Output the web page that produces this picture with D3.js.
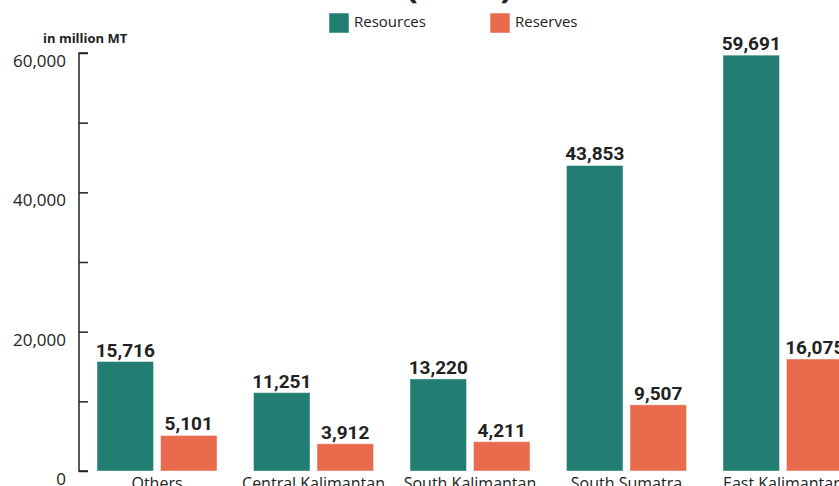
<!DOCTYPE html>
<html>
<head>
<meta charset="utf-8">
<script src="https://cdn.jsdelivr.net/npm/d3@7"></script>
<style>
  body { margin: 0; background: #fff; }
  svg { display: block; }
</style>
</head>
<body>
<script>
// data (million MT, 2020)
const provinces = ["Others", "Central Kalimantan", "South Kalimantan", "South Sumatra", "East Kalimantan"];
const resources = [15716, 11251, 13220, 43853, 59691];
const reserves = [5101, 3912, 4211, 9507, 16075];
const seriesNames = ["Resources", "Reserves"];
const yTicks = [0, 10000, 20000, 30000, 40000, 50000, 60000];
const yLabels = [0, 20000, 40000, 60000];

const WIDTH = 839;
const HEIGHT = 486;
const COLORS = { Resources: "#227d72", Reserves: "#e86b4e" };

const rows = provinces.map((p, i) => ({ name: p, Resources: resources[i], Reserves: reserves[i] }));

const svg = d3.select("body")
  .append("svg")
  .attr("width", WIDTH)
  .attr("height", HEIGHT);

const x0 = d3.scaleBand()
  .domain(provinces)
  .range([79, 861])
  .paddingInner(0.233)
  .paddingOuter(0.115);

const x1 = d3.scaleBand()
  .domain(seriesNames)
  .range([0, x0.bandwidth()])
  .paddingInner(0.11);

const y = d3.scaleLinear()
  .domain([0, 60000])
  .range([471, 53]);

// title (second line, mostly above the visible area)
svg.append("text")
  .attr("x", 459)
  .attr("y", -2)
  .attr("text-anchor", "middle")
  .style("font-family", "'Open Sans', sans-serif")
  .style("font-weight", "bold")
  .style("font-size", "36px")
  .style("fill", "#222")
  .text("(2020)");

// legend
const legend = svg.append("g");
[[329, "Resources"], [490, "Reserves"]].forEach(([lx, name]) => {
  legend.append("rect")
    .attr("x", lx).attr("y", 13)
    .attr("width", 20).attr("height", 20)
    .style("fill", COLORS[name])
    .attr("stroke", "rgba(255,255,255,0.5)");
  legend.append("text")
    .attr("x", lx + 25).attr("y", 27)
    .style("font-family", "'Open Sans', sans-serif")
    .style("font-size", "15px")
    .style("fill", "#222")
    .text(name);
});

// unit label
svg.append("text")
  .attr("x", 43).attr("y", 43)
  .style("font-family", "'Open Sans', sans-serif")
  .style("font-weight", "bold")
  .style("font-size", "13px")
  .style("fill", "#222")
  .text("in million MT");

// y axis: ticks point into the plot, labels only every 20,000
const yAxis = d3.axisRight(y)
  .tickValues(yTicks)
  .tickSize(9)
  .tickFormat("");

const gy = svg.append("g")
  .attr("transform", "translate(79,0)")
  .call(yAxis);
gy.select(".domain").attr("stroke", "#222").attr("stroke-width", 1.5).attr("d", `M9,${y(60000)}H0V${y(0)}H9`);
gy.selectAll(".tick line").attr("stroke", "#222").attr("stroke-width", 1.5);

svg.append("g")
  .selectAll("text")
  .data(yLabels)
  .enter()
  .append("text")
  .attr("x", 66)
  .attr("y", d => y(d) + 14)
  .attr("text-anchor", "end")
  .style("font-family", "'Open Sans', sans-serif")
  .style("font-size", "17px")
  .style("fill", "#222")
  .text(d => d3.format(",")(d));

// bars
const groups = svg.append("g")
  .selectAll("g")
  .data(rows)
  .enter()
  .append("g")
  .attr("transform", d => `translate(${x0(d.name)},0)`);

groups.selectAll("rect")
  .data(d => seriesNames.map(k => ({ key: k, value: d[k] })))
  .enter()
  .append("rect")
  .attr("x", d => x1(d.key))
  .attr("y", d => y(d.value))
  .attr("width", x1.bandwidth())
  .attr("height", d => y(0) - y(d.value))
  .style("fill", d => COLORS[d.key])
  .attr("stroke", "rgba(255,255,255,0.45)")
  .attr("stroke-width", 1);

groups.selectAll("text.val")
  .data(d => seriesNames.map(k => ({ key: k, value: d[k] })))
  .enter()
  .append("text")
  .attr("class", "val")
  .attr("x", d => x1(d.key) + x1.bandwidth() / 2)
  .attr("y", d => y(d.value) - 5)
  .attr("text-anchor", "middle")
  .style("font-family", "Roboto, sans-serif")
  .style("font-weight", "bold")
  .style("font-size", "19px")
  .style("fill", "#222")
  .text(d => d3.format(",")(d.value));

// category labels
svg.append("g")
  .selectAll("text")
  .data(provinces)
  .enter()
  .append("text")
  .attr("x", d => x0(d) + x0.bandwidth() / 2)
  .attr("y", 489)
  .attr("text-anchor", "middle")
  .style("font-family", "'Open Sans', sans-serif")
  .style("font-size", "16px")
  .style("fill", "#222")
  .text(d => d);
</script>
</body>
</html>
